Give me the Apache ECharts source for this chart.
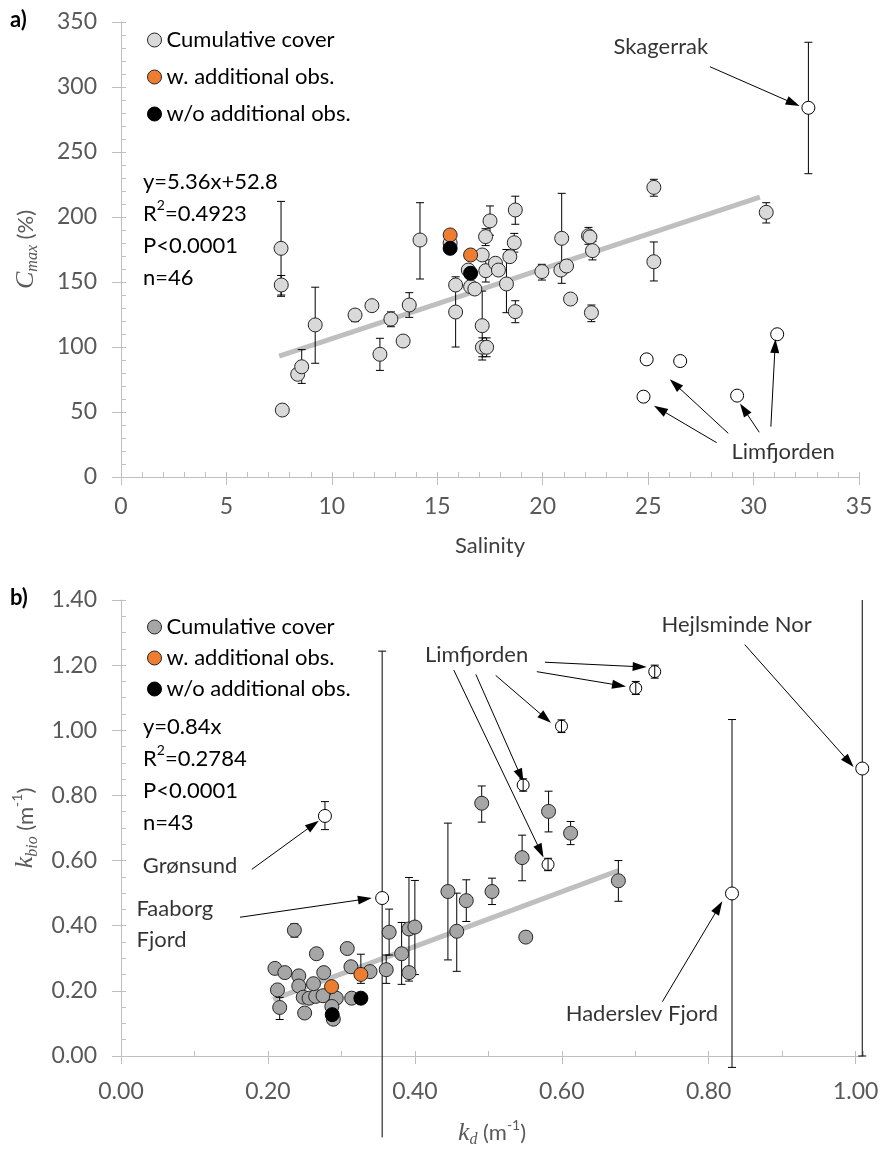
<!DOCTYPE html>
<html>
<head>
<meta charset="utf-8">
<script src="https://cdn.jsdelivr.net/npm/echarts@6/dist/echarts.min.js"></script>
<style>
html, body { margin: 0; padding: 0; background: #fff; }
#chart { width: 889px; height: 1149px; }
</style>
</head>
<body>
<div id="chart"></div>
<script>
// ---- panel a: salinity vs Cmax  [x, y, errLow, errHigh] ----
var aGrey = [
	[7.59, 175.9, 139, 212], [7.60, 147.7, 140, 155], [7.65, 51.5], [8.38, 79.0],
	[8.57, 84.8, 72, 98], [9.21, 117.0, 87.5, 146], [11.10, 124.6, 119.5, 128.5], [11.90, 131.8],
	[12.28, 94.4, 82, 106.7], [12.80, 121.5, 115.6, 127], [13.38, 104.6], [13.67, 132.3, 122.8, 141.8],
	[14.18, 182.3, 152.3, 211], [15.61, 180.0], [15.87, 147.7], [15.87, 126.9, 100, 154],
	[16.47, 159.2], [16.58, 146.4], [16.78, 144.6], [17.13, 170.8],
	[17.13, 116.4, 90, 143], [17.29, 184.9, 178, 191], [17.30, 158.7, 150, 167], [17.50, 197.0, 186, 208.5],
	[17.76, 164.4], [17.90, 159.2], [17.14, 99.8, 92.5, 107], [17.34, 99.8, 92.5, 107],
	[18.28, 148.5, 126.4, 175], [18.44, 169.5], [18.65, 180.2, 173, 187.4], [18.70, 205.4, 194.4, 216],
	[18.70, 127.2, 118.7, 135.6], [19.96, 158.0, 151.5, 163.6], [20.90, 183.6, 149, 218.2], [20.86, 159.2],
	[21.13, 162.3], [21.32, 136.9], [22.17, 185.6, 179, 192], [22.24, 184.6],
	[22.36, 174.1, 167, 181], [22.31, 126.4, 119.5, 132.3], [25.27, 222.8, 216, 229], [25.27, 165.6, 150.8, 180.8],
	[30.60, 203.6, 195.4, 211]
];
var aOrange = [[15.61, 186.2], [16.58, 170.8]];
var aBlack = [[15.61, 175.9], [16.58, 156.7]];
var aOpen = [[32.6, 284.0, 233.3, 334.4], [24.93, 90.5], [26.52, 89.2], [24.78, 61.8], [29.22, 62.6], [31.12, 109.8]];
var aTrend = [[7.5, 93.0], [30.3, 215.2]];
var aNotes = [['Skagerrak', 25.6, 331], ['Limfjorden', 31.4, 19.5]];
var aArrows = [
	[27.93, 315.6, 31.88, 287.5],
	[28.25, 26.4, 25.56, 52.1],
	[28.80, 33.6, 26.27, 71.5],
	[30.27, 34.4, 29.54, 52.1],
	[30.82, 38.7, 31.02, 100.8]
];
var aStats = 'y=5.36x+52.8\n{t|R}{sup|2}{t|=0.4923}\nP<0.0001\nn=46';

// ---- panel b: kd vs kbio ----
var bGrey = [
	[0.491, 0.776, 0.718, 0.829], [0.582, 0.751, 0.688, 0.813], [0.612, 0.684, 0.649, 0.720],
	[0.546, 0.609, 0.538, 0.678], [0.677, 0.538, 0.475, 0.600], [0.445, 0.505, 0.295, 0.715],
	[0.470, 0.477, 0.413, 0.541], [0.505, 0.505, 0.465, 0.546], [0.551, 0.365],
	[0.457, 0.383, 0.26, 0.50], [0.365, 0.380, 0.31, 0.451], [0.361, 0.265, 0.223, 0.31],
	[0.392, 0.390, 0.23, 0.548], [0.400, 0.396, 0.25, 0.539], [0.392, 0.256], [0.382, 0.314, 0.22, 0.41],
	[0.2095, 0.269], [0.223, 0.256], [0.242, 0.246], [0.213, 0.203], [0.216, 0.149, 0.112, 0.18],
	[0.236, 0.386, 0.365, 0.406], [0.266, 0.314], [0.308, 0.330], [0.276, 0.256], [0.313, 0.274],
	[0.339, 0.259], [0.242, 0.215], [0.248, 0.1805], [0.256, 0.1775], [0.265, 0.183], [0.275, 0.185],
	[0.293, 0.1775], [0.314, 0.1775], [0.250, 0.132], [0.287, 0.152], [0.289, 0.113], [0.262, 0.222]
];
var bOrange = [[0.2866, 0.213], [0.3265, 0.2505, 0.223, 0.3125]];
var bBlack = [[0.2875, 0.127], [0.3265, 0.1775]];
var bOpen = [[0.2776, 0.737, 0.695, 0.781], [0.3555, 0.485, -0.30, 1.243], [0.8317, 0.499, -0.035, 1.033], [1.009, 0.8826, 0.0, 1.41]];
var bLimf = [[0.7265, 1.180, 1.16, 1.20], [0.7007, 1.129, 1.11, 1.15], [0.5996, 1.0125, 0.993, 1.032], [0.5474, 0.832, 0.813, 0.851], [0.5813, 0.588, 0.569, 0.607]];
var bTrend = [[0.207, 0.174], [0.677, 0.569]];
var bNotes = [['Limfjorden', 0.484, 1.2325], ['Hejlsminde Nor', 0.838, 1.3238], ['Haderslev Fjord', 0.709, 0.128], ['Grønsund', 0.094, 0.5834]];
var bNotesLeft = [['Faaborg\nFjord', 0.0204, 0.405]];
var bArrows = [
	[0.577, 1.209, 0.706, 1.195],
	[0.566, 1.180, 0.678, 1.138],
	[0.510, 1.1686, 0.578, 1.0368],
	[0.483, 1.1716, 0.544, 0.860],
	[0.453, 1.1847, 0.571, 0.629],
	[0.849, 1.263, 0.991, 0.903],
	[0.737, 0.167, 0.8136, 0.4565],
	[0.178, 0.573, 0.2616, 0.710],
	[0.162, 0.426, 0.332, 0.4817]
];
var bStats = 'y=0.84x\n{t|R}{sup|2}{t|=0.2784}\nP<0.0001\nn=43';

var FONT = 'Lato';
var AXIS_GREY = '#bfbfbf';
var LABEL_GREY = '#595959';

function pts(rows) {
	return rows.map(function (r) { return [r[0], r[1]]; });
}
function bars(rows) {
	return rows.filter(function (r) { return r.length > 2; }).map(function (r) { return [r[0], r[2], r[3]]; });
}

function errRender(yMin, yMax) {
	return function (params, api) {
		var x = api.value(0), lo = api.value(1), hi = api.value(2);
		var top = api.coord([x, Math.min(hi, yMax)]);
		var bot = api.coord([x, Math.max(lo, yMin)]);
		var st = { stroke: '#000', lineWidth: 1 };
		var kids = [{ type: 'line', shape: { x1: top[0], y1: top[1], x2: bot[0], y2: bot[1] }, style: st }];
		if (hi < yMax) kids.push({ type: 'line', shape: { x1: top[0] - 4, y1: top[1], x2: top[0] + 4, y2: top[1] }, style: st });
		if (lo > yMin) kids.push({ type: 'line', shape: { x1: bot[0] - 4, y1: bot[1], x2: bot[0] + 4, y2: bot[1] }, style: st });
		return { type: 'group', children: kids };
	};
}

var richName = {
	i: { fontFamily: 'Liberation Serif', fontStyle: 'italic', fontSize: 26, color: LABEL_GREY, lineHeight: 30 },
	s: { fontFamily: 'Liberation Serif', fontStyle: 'italic', fontSize: 16, color: LABEL_GREY, verticalAlign: 'bottom', lineHeight: 16 },
	n: { fontFamily: FONT, fontSize: 22, color: LABEL_GREY, lineHeight: 30 },
	p: { fontFamily: FONT, fontSize: 14, color: LABEL_GREY, verticalAlign: 'top', lineHeight: 14 }
};

// major axis: labels, line and outward ticks
function xAxis(grid, max, step, name, gap, margin, fmt) {
	return {
		type: 'value', gridIndex: grid, min: 0, max: max, interval: step, position: 'bottom',
		name: name, nameLocation: 'middle', nameGap: gap,
		nameTextStyle: { fontFamily: FONT, fontSize: 22, color: '#404040', rich: richName },
		axisLine: { show: true, lineStyle: { color: AXIS_GREY, width: 1 } },
		axisTick: { show: true, length: 8, lineStyle: { color: AXIS_GREY } },
		axisLabel: { fontFamily: FONT, fontSize: 23, color: LABEL_GREY, margin: margin, showMaxLabel: max === 35, formatter: fmt },
		splitLine: { show: false }
	};
}
function yAxis(grid, max, step, name, fmt) {
	return {
		type: 'value', gridIndex: grid, min: 0, max: max, interval: step, position: 'left',
		name: name, nameLocation: 'middle', nameGap: 80, nameRotate: 90,
		nameTextStyle: { fontFamily: FONT, fontSize: 22, color: LABEL_GREY, rich: richName },
		axisLine: { show: true, lineStyle: { color: AXIS_GREY, width: 1 } },
		axisTick: { show: true, length: 9, lineStyle: { color: AXIS_GREY } },
		axisLabel: { fontFamily: FONT, fontSize: 23, color: LABEL_GREY, margin: 24, formatter: fmt },
		splitLine: { show: false }
	};
}
// minor axis: only short inward ticks
function minorAxis(grid, max, step, pos) {
	return {
		type: 'value', gridIndex: grid, min: 0, max: max, interval: step, position: pos,
		axisLine: { show: false },
		axisTick: { show: true, inside: true, length: 5, lineStyle: { color: AXIS_GREY } },
		axisLabel: { show: false },
		splitLine: { show: false }
	};
}

function legendData(grey) {
	return [
		{ name: 'Cumulative cover', itemStyle: { color: grey, borderColor: '#262626', borderWidth: 1 } },
		{ name: 'w. additional obs.', itemStyle: { color: '#ed7d31', borderColor: '#262626', borderWidth: 1 } },
		{ name: 'w/o additional obs.', itemStyle: { color: '#000', borderColor: '#000', borderWidth: 1 } }
	];
}

function panelSeries(ax, grey, greyRows, orange, black, openRows, trend, notes, notesLeft, arrows, yMin, yMax, extraBars) {
	var list = [
		{ type: 'line', xAxisIndex: ax, yAxisIndex: ax, data: trend, symbol: 'none', silent: true, z: 1,
			lineStyle: { color: '#bfbfbf', width: 5 } },
		{ type: 'custom', xAxisIndex: ax, yAxisIndex: ax, renderItem: errRender(yMin, yMax), silent: true, z: 2,
			data: bars(greyRows).concat(bars(orange)).concat(bars(openRows)) },
		{ name: 'Cumulative cover', type: 'scatter', xAxisIndex: ax, yAxisIndex: ax, data: pts(greyRows), symbolSize: 14, z: 3,
			itemStyle: { color: grey, borderColor: '#262626', borderWidth: 1, opacity: 1 } },
		{ name: 'w. additional obs.', type: 'scatter', xAxisIndex: ax, yAxisIndex: ax, data: pts(orange), symbolSize: 14, z: 4,
			itemStyle: { color: '#ed7d31', borderColor: '#262626', borderWidth: 1, opacity: 1 } },
		{ name: 'w/o additional obs.', type: 'scatter', xAxisIndex: ax, yAxisIndex: ax, data: pts(black), symbolSize: 14, z: 4,
			itemStyle: { color: '#000', borderColor: '#000', borderWidth: 1, opacity: 1 } },
		{ type: 'scatter', xAxisIndex: ax, yAxisIndex: ax, data: pts(openRows), symbolSize: 13, z: 3,
			itemStyle: { color: '#fff', borderColor: '#000', borderWidth: 1, opacity: 1 } },
		{ type: 'scatter', xAxisIndex: ax, yAxisIndex: ax, symbolSize: 1, silent: true, z: 6,
			itemStyle: { color: 'rgba(0,0,0,0)' },
			data: notes.map(function (n) { return { name: n[0], value: [n[1], n[2]] }; }),
			label: { show: true, position: 'inside', formatter: '{b}', fontFamily: FONT, fontSize: 22, color: '#000' },
			markLine: {
				silent: true, animation: false, symbol: ['none', 'triangle'], symbolSize: [9, 14],
				label: { show: false }, emphasis: { disabled: true },
				lineStyle: { color: '#000', width: 1, type: 'solid' },
				data: arrows.map(function (a) { return [{ coord: [a[0], a[1]] }, { coord: [a[2], a[3]] }]; })
			} }
	];
	if (notesLeft.length) {
		list.push({ type: 'scatter', xAxisIndex: ax, yAxisIndex: ax, symbolSize: 1, silent: true, z: 6,
			itemStyle: { color: 'rgba(0,0,0,0)' },
			data: notesLeft.map(function (n) { return { name: n[0], value: [n[1], n[2]] }; }),
			label: { show: true, position: 'right', distance: 0, align: 'left', formatter: '{b}', fontFamily: FONT, fontSize: 22, color: '#000', lineHeight: 31 } });
	}
	if (extraBars.length) {
		list.push({ type: 'scatter', xAxisIndex: ax, yAxisIndex: ax, data: pts(extraBars), symbolSize: 12, z: 5,
			itemStyle: { color: '#fff', borderColor: '#000', borderWidth: 1, opacity: 1 } });
		list.push({ type: 'custom', xAxisIndex: ax, yAxisIndex: ax, renderItem: errRender(yMin, yMax), silent: true, z: 7,
			data: bars(extraBars) });
	}
	return list;
}

var statsRich = {
	t: { fontFamily: FONT, fontSize: 22, color: '#000', lineHeight: 32 },
	sup: { fontFamily: FONT, fontSize: 14, color: '#000', verticalAlign: 'top', lineHeight: 22 }
};
var fmt0 = function (v) { return String(v); };
var fmt2 = function (v) { return v.toFixed(2); };

var myChart = echarts.init(document.getElementById('chart'));
myChart.setOption({
	animation: false,
	backgroundColor: '#fff',
	title: [
		{ text: 'a)', left: 10, top: 9, padding: 0, textStyle: { fontFamily: FONT, fontSize: 22, fontWeight: 'bold', color: '#000' } },
		{ text: 'b)', left: 10, top: 587, padding: 0, textStyle: { fontFamily: FONT, fontSize: 22, fontWeight: 'bold', color: '#000' } },
		{ text: aStats, left: 143, top: 166, padding: 0, textStyle: { fontFamily: FONT, fontSize: 22, fontWeight: 'normal', color: '#000', lineHeight: 32, rich: statsRich } },
		{ text: bStats, left: 143, top: 711, padding: 0, textStyle: { fontFamily: FONT, fontSize: 22, fontWeight: 'normal', color: '#000', lineHeight: 32, rich: statsRich } }
	],
	legend: [
		{ left: 142, top: 22, orient: 'vertical', icon: 'circle', itemWidth: 14, itemHeight: 14, itemGap: 11, selectedMode: false,
			textStyle: { fontFamily: FONT, fontSize: 22, color: '#000', lineHeight: 26 }, data: legendData('#d9d9d9') },
		{ left: 142, top: 609, orient: 'vertical', icon: 'circle', itemWidth: 14, itemHeight: 14, itemGap: 5, selectedMode: false,
			textStyle: { fontFamily: FONT, fontSize: 22, color: '#000', lineHeight: 26 }, data: legendData('#a6a6a6') }
	],
	grid: [
		{ left: 121, top: 22, width: 738, height: 455 },
		{ left: 121, top: 600, width: 742, height: 460 }
	],
	xAxis: [
		xAxis(0, 35, 5, 'Salinity', 58, 18, fmt0),
		xAxis(1, 1.01, 0.2, '{i|k}{s|d} {n|(m}{p|-1}{n|)}', 62, 24, fmt2),
		minorAxis(0, 35, 1, 'bottom'),
		minorAxis(1, 1.01, 0.1, 'bottom')
	],
	yAxis: [
		yAxis(0, 350, 50, '{i|C}{s|max} {n|(%)}', fmt0),
		yAxis(1, 1.4, 0.2, '{i|k}{s|bio} {n|(m}{p|-1}{n|)}', fmt2),
		minorAxis(0, 350, 10, 'left'),
		minorAxis(1, 1.4, 0.05, 'left')
	],
	series: []
		.concat(panelSeries(0, '#d9d9d9', aGrey, aOrange, aBlack, aOpen, aTrend, aNotes, [], aArrows, 0, 350, []))
		.concat(panelSeries(1, '#a6a6a6', bGrey, bOrange, bBlack, bOpen, bTrend, bNotes, bNotesLeft, bArrows, -0.25, 1.4, bLimf))
});
window.addEventListener('resize', function () {
	myChart.resize();
});
</script>
</body>
</html>
